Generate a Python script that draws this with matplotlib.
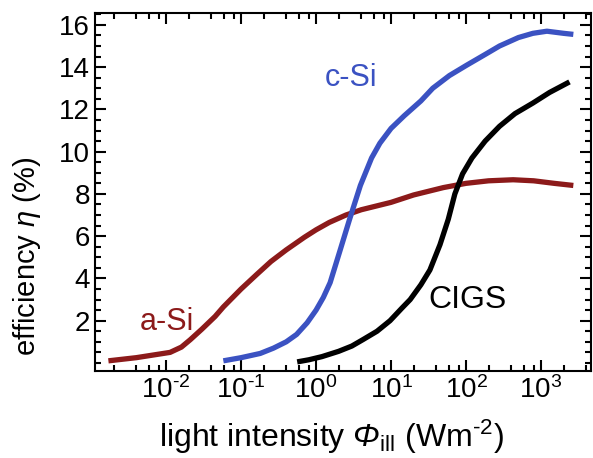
import matplotlib
matplotlib.use("Agg")
from matplotlib import pyplot as plt
from matplotlib.ticker import LogLocator, MultipleLocator, FixedLocator, FuncFormatter
import math

plt.rcParams['font.family'] = ['Liberation Sans', 'DejaVu Sans']
plt.rcParams['mathtext.fontset'] = 'custom'
plt.rcParams['mathtext.rm'] = 'Liberation Sans'
plt.rcParams['mathtext.it'] = 'Liberation Sans:italic'
plt.rcParams['mathtext.sf'] = 'Liberation Sans:italic'

# a-Si
asi_x = [0.0017, 0.004, 0.0113, 0.016, 0.021, 0.03, 0.045, 0.058, 0.1, 0.163, 0.25, 0.4,
         0.7, 1.0, 1.5, 2.5, 4, 10, 20, 50, 100, 200, 425, 800, 1500, 2700]
asi_y = [0.1, 0.25, 0.5, 0.75, 1.1, 1.6, 2.2, 2.65, 3.5, 4.2, 4.8, 5.35,
         5.95, 6.3, 6.65, 7.0, 7.25, 7.6, 7.95, 8.3, 8.5, 8.62, 8.67, 8.62, 8.5, 8.4]
# c-Si
csi_x = [0.058, 0.1, 0.18, 0.27, 0.4, 0.55, 0.76, 1.0, 1.25, 1.54, 2.1, 2.8, 3.9, 5.5,
         7.1, 10, 15, 25, 36, 60, 103, 180, 280, 500, 780, 1200, 2000, 2700]
csi_y = [0.1, 0.25, 0.45, 0.7, 1.0, 1.35, 1.9, 2.5, 3.1, 3.8, 5.35, 6.8, 8.4, 9.7,
         10.4, 11.1, 11.7, 12.4, 13.0, 13.6, 14.1, 14.6, 15.0, 15.4, 15.6, 15.7, 15.6, 15.55]
# CIGS
cigs_x = [0.56, 0.8, 1.2, 2, 3, 4.2, 6.5, 9.7, 14, 18, 25, 33, 45, 58, 71, 90, 120,
          180, 280, 450, 780, 1300, 2400]
cigs_y = [0.05, 0.15, 0.3, 0.55, 0.8, 1.1, 1.5, 2.0, 2.6, 3.0, 3.7, 4.4, 5.6, 6.8, 8.0, 8.95, 9.7,
          10.5, 11.2, 11.8, 12.3, 12.8, 13.3]

red = '#8c1a1a'
blue = '#3b52c2'

fig = plt.figure(figsize=(5.93, 4.58), dpi=100)
ax = fig.add_axes([0.160, 0.190, 0.837, 0.782])

ax.plot(asi_x, asi_y, color=red, lw=3.8, solid_capstyle='butt')
ax.plot(csi_x, csi_y, color=blue, lw=3.8, solid_capstyle='butt')
ax.plot(cigs_x, cigs_y, color='black', lw=3.8, solid_capstyle='butt')

ax.text(0.0045, 1.55, 'a-Si', color=red, fontsize=22)
ax.text(1.32, 13.1, 'c-Si', color=blue, fontsize=22)
ax.text(31, 2.6, 'CIGS', color='black', fontsize=23)

ax.set_xscale('log')
ax.set_xlim(10**-2.95, 10**3.67)
ax.set_ylim(-0.38, 16.57)
ax.xaxis.set_major_locator(LogLocator(base=10, numticks=20))
ax.xaxis.set_minor_locator(LogLocator(base=10, subs=[2, 4, 6, 8], numticks=20))
ax.xaxis.set_major_formatter(FuncFormatter(
    lambda v, p: r'10$^{\text{%d}}$' % round(math.log10(v))))
ax.yaxis.set_major_locator(FixedLocator([2, 4, 6, 8, 10, 12, 14, 16]))
ax.yaxis.set_minor_locator(MultipleLocator(0.5))

ax.tick_params(which='both', direction='in', top=True, right=True, width=1.5, labelsize=20)
ax.tick_params(which='major', length=8)
ax.tick_params(which='minor', length=4)
for s in ax.spines.values():
    s.set_linewidth(1.5)

ax.set_xlabel(r'light intensity $\mathsf{Φ}_{\rm ill}$ (Wm$^{\text{-2}}$)', fontsize=23)
ax.set_ylabel(r'efficiency $\mathsf{η}$ (%)', fontsize=21)
ax.xaxis.set_label_coords(0.476, -0.13)
ax.yaxis.set_label_coords(-0.105, 0.32)

fig.savefig('out.png', dpi=100)
